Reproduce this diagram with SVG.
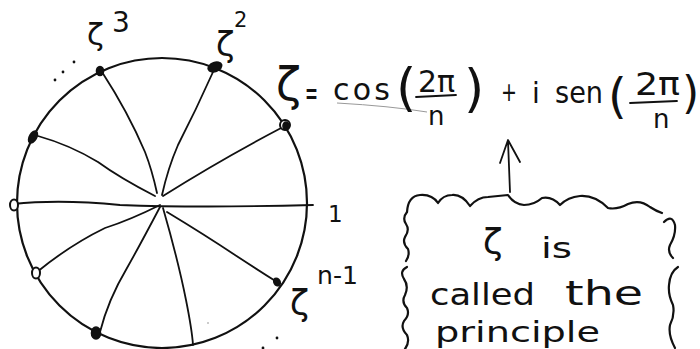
<svg xmlns="http://www.w3.org/2000/svg" width="700" height="349" viewBox="0 0 700 349">
<style>
.ink{fill:none;stroke:#111;stroke-width:2.2;stroke-linecap:round;stroke-linejoin:round}
.thin{fill:none;stroke:#111;stroke-width:1.8;stroke-linecap:round;stroke-linejoin:round}
.dot{fill:#111;stroke:#111;stroke-width:1.6}
.hol{fill:#fff;stroke:#111;stroke-width:2}
.t{font-family:"DejaVu Sans","Liberation Sans",sans-serif;fill:#111}
</style>
<rect width="700" height="349" fill="#fff"/>
<g id="circle"><circle class="ink" cx="162" cy="203" r="145"/></g>
<g id="connectors">
<path class="thin" d="M163 196 Q 220 160 283 127"/>
<path class="thin" d="M162 195 Q 168 168 178 145 Q 196 110 213 72"/>
<path class="thin" d="M157 193 Q 152 170 145 152 Q 128 112 102 72"/>
<path class="thin" d="M155 196 Q 120 178 98 162 Q 70 145 38 136"/>
<path class="thin" d="M13 204 Q 60 199 120 205 Q 200 208 313 205"/>
<path class="thin" d="M160 205 Q 130 220 105 228 Q 70 245 37 272"/>
<path class="thin" d="M160 207 Q 140 245 127 268 Q 108 300 100 332"/>
<path class="thin" d="M163 208 Q 178 260 186 300 Q 192 330 193 345"/>
<path class="thin" d="M167 212 Q 205 235 235 255 Q 258 270 277 282"/>
<path class="thin" d="M510 192 L 508 141 M 500 163 L 508 140 L 520 162"/>
<path d="M337 103 Q 390 106 427 112" fill="none" stroke="#999" stroke-width="1"/>
</g>
<g id="node-z1"><circle class="hol" cx="285" cy="125" r="5"/><ellipse class="dot" cx="286" cy="126" rx="3" ry="4"/></g>
<g id="node-z2"><ellipse class="dot" cx="215" cy="67" rx="7" ry="4.5" transform="rotate(-20 215 67)"/></g>
<g id="node-z3"><ellipse class="dot" cx="100" cy="71" rx="3.5" ry="4.5"/></g>
<g id="node-z4"><ellipse class="dot" cx="33" cy="137" rx="3.5" ry="6.5" transform="rotate(30 33 137)"/></g>
<g id="node-z5"><ellipse class="hol" cx="14" cy="205" rx="4" ry="5.5"/></g>
<g id="node-z6"><ellipse class="hol" cx="36" cy="273" rx="4" ry="5.5"/></g>
<g id="node-z7"><ellipse class="dot" cx="96" cy="333" rx="4.5" ry="6"/></g>
<g id="node-zn1"><ellipse class="dot" cx="277" cy="282" rx="3" ry="4" transform="rotate(-30 277 282)"/></g>
<g id="labels">
<text class="t" x="87" y="45" font-size="31">ζ</text>
<text class="t" x="112" y="32" font-size="28">3</text>
<circle cx="55" cy="80" r="1.4" fill="#111"/><circle cx="63" cy="72" r="1.4" fill="#111"/><circle cx="74" cy="62" r="1.4" fill="#111"/>
<text class="t" x="216" y="56" font-size="34">ζ</text>
<text class="t" x="234" y="27" font-size="21">2</text>
<text class="t" x="328" y="222" font-size="23">1</text>
<text class="t" x="290" y="315" font-size="35">ζ</text>
<text class="t" x="317" y="284" font-size="24" textLength="41" lengthAdjust="spacingAndGlyphs">n-1</text>
<circle cx="277" cy="338" r="1.4" fill="#111"/><circle cx="263" cy="348" r="1.4" fill="#111"/>
<circle cx="208" cy="323" r="1" fill="#bbb"/>
</g>
<g id="equation">
<text class="t" x="276" y="100" font-size="46">ζ</text>
<text class="t" x="305" y="105" font-size="36" textLength="13" lengthAdjust="spacingAndGlyphs">=</text>
<text class="t" x="333" y="100" font-size="30" textLength="57" lengthAdjust="spacing">cos</text>
<text class="t" x="396" y="105" font-size="52">(</text>
<text class="t" x="418" y="92" font-size="30" textLength="37" lengthAdjust="spacingAndGlyphs">2π</text>
<path class="thin" d="M416 97 L 456 95"/>
<text class="t" x="428" y="125" font-size="26">n</text>
<text class="t" x="464" y="106" font-size="52">)</text>
<text class="t" x="501" y="101" font-size="26" textLength="16" lengthAdjust="spacingAndGlyphs">+</text>
<text class="t" x="532" y="103" font-size="28">i</text>
<text class="t" x="555" y="103" font-size="30" textLength="48" lengthAdjust="spacingAndGlyphs">sen</text>
<text class="t" x="608" y="113" font-size="48">(</text>
<text class="t" x="635" y="95" font-size="32" textLength="45" lengthAdjust="spacingAndGlyphs">2π</text>
<path class="thin" d="M630 103 L 677 101"/>
<text class="t" x="653" y="128" font-size="26">n</text>
<text class="t" x="682" y="108" font-size="44">)</text>
</g>
<g id="note">
<path class="ink" d="M407 212 Q 408 196 420 195 Q 432 194 438 203 Q 443 195 452 195 Q 462 194 470 206 Q 478 197 488 197 Q 498 196 508 195 Q 514 204 524 205 Q 534 205 542 198 Q 552 196 560 205 Q 568 197 580 196 Q 595 195 608 208 Q 617 210 628 204 Q 640 199 650 207 Q 656 211 662 213"/>
<path class="ink" d="M664 222 Q 672 214 675 225 Q 676 235 670 245 Q 667 252 673 258"/>
<path class="ink" d="M678 267 Q 670 272 669 285 Q 668 295 673 305 Q 675 315 670 325 Q 668 335 675 348"/>
<path class="ink" d="M407 212 Q 402 218 406 224 Q 410 230 405 237 Q 402 243 408 249 Q 410 255 406 261"/>
<path class="ink" d="M407 267 Q 399 271 404 279 Q 409 286 405 295 Q 401 302 407 308 Q 410 315 404 321 Q 400 328 407 335 Q 410 342 405 349"/>
<text class="t" x="483" y="254" font-size="36">ζ</text>
<text class="t" x="541" y="258" font-size="28" textLength="31" lengthAdjust="spacingAndGlyphs">is</text>
<text class="t" x="430" y="305" font-size="30" textLength="105" lengthAdjust="spacingAndGlyphs">called</text>
<text class="t" x="565" y="305" font-size="34" textLength="78" lengthAdjust="spacingAndGlyphs">the</text>
<text class="t" x="435" y="342" font-size="28" textLength="165" lengthAdjust="spacingAndGlyphs">principle</text>
</g>
</svg>
